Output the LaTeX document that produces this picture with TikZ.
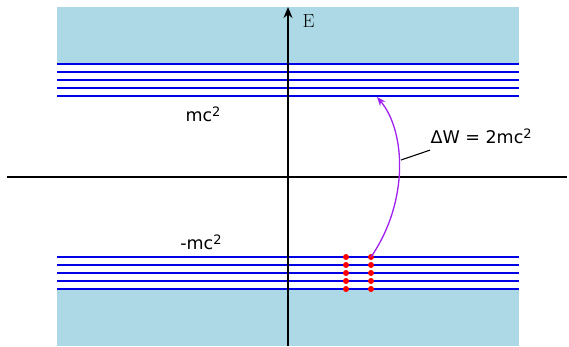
\documentclass[tikz,border=0pt]{standalone}
\usepackage{fontspec}
\newfontfamily\labelfont{DejaVu Sans}
\usepackage{xcolor}
\usepackage{tikz}
\usetikzlibrary{arrows.meta, positioning}

\definecolor{bandblue}{RGB}{173,216,230}
\definecolor{levelblue}{RGB}{0,0,230}
\definecolor{jumppurple}{RGB}{160,32,240}

\newcommand{\sq}{\raisebox{0.55ex}{\fontsize{13}{14}\selectfont 2}}

\begin{document}
\begin{tikzpicture}[x=1pt, y=-1pt, font=\labelfont\fontsize{17.5}{19}\selectfont]
    \tikzstyle{band} = [fill=bandblue, draw=none]
    \tikzstyle{level} = [draw=levelblue, line width=1.3pt]
    \tikzstyle{axis} = [draw=black, line width=1.8pt]
    \tikzstyle{electron} = [circle, fill=red, inner sep=0pt, minimum size=6pt]
    \tikzstyle{jump} = [draw=jumppurple, line width=1.3pt, -{Stealth[length=9pt, width=7pt]}]

    \useasboundingbox (0,0) rectangle (569,346);

    % energy bands
    \fill [band] (57,7) rectangle (519,64);
    \fill [band] (57,289) rectangle (519,346);

    % discrete levels
    \foreach \y in {64,72,80,88,96} {
        \draw [level] (57,\y) -- (519,\y);
    }
    \foreach \y in {257,265,273,281,289} {
        \draw [level] (57,\y) -- (519,\y);
    }

    % axes
    \draw [axis] (7,177) -- (567,177);
    \draw [axis, -{Stealth[length=11pt, width=9pt]}] (288,346) -- (288,7);
    \node [font=\rmfamily\fontsize{19}{21}\selectfont, anchor=west] (elabel) at (299,21) {E};

    % labels
    \node (upper) at (203,114) {mc\sq};
    \node (lower) at (201,242) {-mc\sq};

    % electrons in the lower levels
    \foreach \y [count=\i] in {257,265,273,281,289} {
        \node [electron] (a\i) at (346,\y) {};
        \node [electron] (b\i) at (371,\y) {};
    }

    % pair creation jump
    \coordinate (target) at (377,97);
    \draw [jump] (b1.center) .. controls (410,200) and (405,130) .. (target);
    \node [anchor=west] (dw) at (427,136) {ΔW = 2mc\sq};
    \coordinate (foot) at (401,160);
    \draw [line width=1.1pt] (foot) -- ([xshift=3pt, yshift=-3pt]dw.south west);
\end{tikzpicture}
\end{document}
